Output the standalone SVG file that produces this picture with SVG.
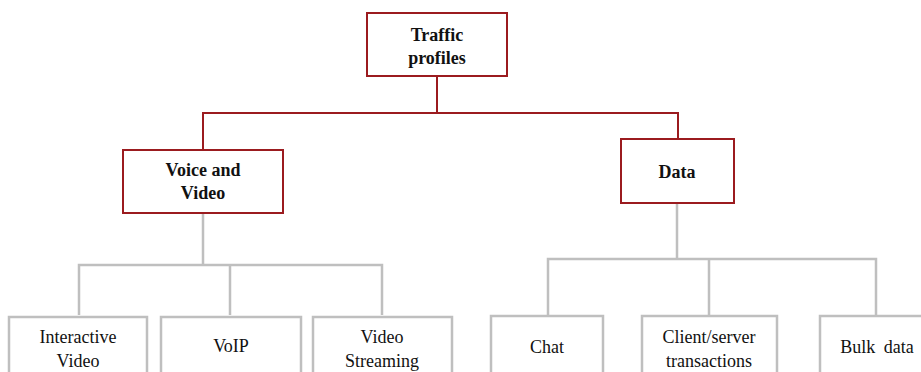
<svg xmlns="http://www.w3.org/2000/svg" width="921" height="372" viewBox="0 0 921 372">
<defs>
<style>
.top{fill:#fff;stroke:#9B1B1F;stroke-width:2}
.leaf{fill:#fff;stroke:#BFBFBF;stroke-width:2.5}
.rc{fill:none;stroke:#9B1B1F;stroke-width:2}
.gc{fill:none;stroke:#BFBFBF;stroke-width:2.5}
</style>
</defs>
<rect width="921" height="372" fill="#fff"/>
<g id="connectors">
<path class="rc" d="M437 76V113M203 150V113H678V139"/>
<path class="gc" d="M203 213V265M79 315V265H382V315M230 265V315"/>
<path class="gc" d="M677 203V259M548 316V259H876V316M709 259V316"/>
</g>
<g id="traffic"><rect class="top" x="367" y="13" width="140" height="63"/><text x="437" y="41" font-family="Liberation Serif" font-size="18" font-weight="bold" fill="#111" text-anchor="middle">Traffic</text><text x="437" y="64" font-family="Liberation Serif" font-size="18" font-weight="bold" fill="#111" text-anchor="middle">profiles</text></g>
<g id="voice"><rect class="top" x="123" y="150" width="160" height="63"/><text x="203" y="176" font-family="Liberation Serif" font-size="18" font-weight="bold" fill="#111" text-anchor="middle">Voice and</text><text x="203" y="199" font-family="Liberation Serif" font-size="18" font-weight="bold" fill="#111" text-anchor="middle">Video</text></g>
<g id="data"><rect class="top" x="621" y="139" width="113" height="64"/><text x="677" y="178" font-family="Liberation Serif" font-size="18" font-weight="bold" fill="#111" text-anchor="middle">Data</text></g>
<g id="interactive"><rect class="leaf" x="9" y="317" width="138" height="70"/><text x="78" y="343" font-family="Liberation Serif" font-size="18" fill="#111" text-anchor="middle">Interactive</text><text x="78" y="367" font-family="Liberation Serif" font-size="18" fill="#111" text-anchor="middle">Video</text></g>
<g id="voip"><rect class="leaf" x="161" y="317" width="140" height="70"/><text x="231" y="352" font-family="Liberation Serif" font-size="18" fill="#111" text-anchor="middle">VoIP</text></g>
<g id="streaming"><rect class="leaf" x="313" y="317" width="139" height="70"/><text x="382" y="343" font-family="Liberation Serif" font-size="18" fill="#111" text-anchor="middle">Video</text><text x="382" y="367" font-family="Liberation Serif" font-size="18" fill="#111" text-anchor="middle">Streaming</text></g>
<g id="chat"><rect class="leaf" x="491" y="316" width="112" height="70"/><text x="547" y="353" font-family="Liberation Serif" font-size="18" fill="#111" text-anchor="middle">Chat</text></g>
<g id="client"><rect class="leaf" x="642" y="316" width="135" height="70"/><text x="709" y="343" font-family="Liberation Serif" font-size="18" fill="#111" text-anchor="middle">Client/server</text><text x="709" y="367" font-family="Liberation Serif" font-size="18" fill="#111" text-anchor="middle">transactions</text></g>
<g id="bulk"><rect class="leaf" x="820" y="316" width="110" height="70"/><text x="877" y="353" font-family="Liberation Serif" font-size="18" fill="#111" text-anchor="middle" word-spacing="4">Bulk data</text></g>
</svg>
